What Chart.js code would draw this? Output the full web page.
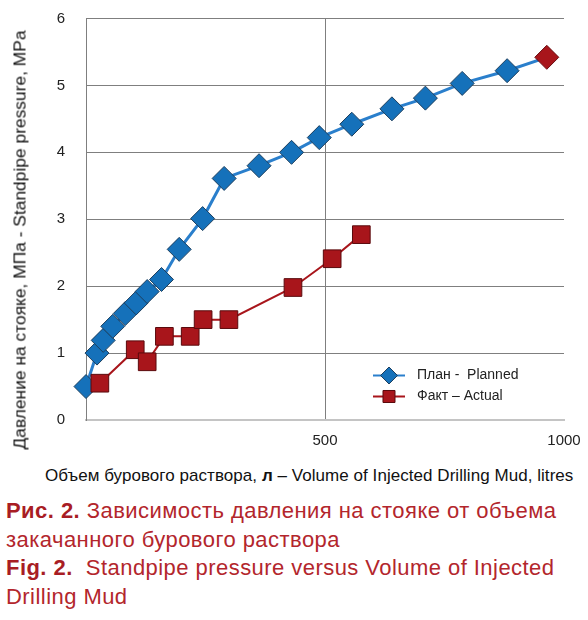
<!DOCTYPE html>
<html>
<head>
<meta charset="utf-8">
<script src="https://cdn.jsdelivr.net/npm/chart.js@4.4.1/dist/chart.umd.min.js"></script>
<style>
  html, body { margin: 0; padding: 0; background: #fff; }
  body { width: 588px; height: 620px; position: relative; overflow: hidden; font-family: "Liberation Sans", Arial, sans-serif; }
  #wrap { position: absolute; left: 0; top: 0; width: 588px; height: 460px; }
  #ytitle { position: absolute; left: 20px; top: 240px; transform: translate(-50%, -50%) rotate(-90deg); white-space: nowrap; font-size: 17.4px; color: #111; }
  #xtitle { position: absolute; left: 45px; top: 466px; white-space: nowrap; font-size: 17px; letter-spacing: 0.05px; color: #111; }
  #caption { position: absolute; left: 6px; top: 497px; font-size: 22px; letter-spacing: 0.45px; line-height: 28.5px; color: #b3262c; }
  #caption b { color: #a81d24; }
</style>
</head>
<body>
<div id="wrap"><canvas id="chart"></canvas></div>
<div id="ytitle">Давление на стояке, МПа - Standpipe pressure, MPa</div>
<div id="xtitle">Объем бурового раствора, <b>л</b> – Volume of Injected Drilling Mud, litres</div>
<div id="caption">
  <b>Рис. 2.</b> Зависимость давления на стояке от объема<br>
  закачанного бурового раствора<br>
  <b>Fig. 2.</b>&nbsp; Standpipe pressure versus Volume of Injected<br>
  Drilling Mud
</div>
<script>
// Объем, л / давление, МПа
const plannedVolume = [0, 23, 36, 56, 82, 105, 128, 158, 195, 244, 289, 362, 430, 488, 556, 640, 710, 787, 881, 964];
const plannedPressure = [0.50, 1.00, 1.19, 1.40, 1.59, 1.75, 1.92, 2.10, 2.55, 3.01, 3.61, 3.80, 4.00, 4.22, 4.42, 4.65, 4.81, 5.03, 5.22, 5.42];

const actualVolume = [29, 103, 128, 164, 218, 245, 299, 433, 515, 576];
const actualPressure = [0.55, 1.05, 0.87, 1.25, 1.25, 1.50, 1.50, 1.98, 2.41, 2.77];

const seriesNames = ["План -  Planned", "Факт – Actual"];
const xTicks = [0, 500, 1000];
const yTicks = [0, 1, 2, 3, 4, 5, 6];

const blue = "#1571ba";
const blueLine = "#2a7fcc";
const red = "#a8151b";

// ultimo punto del piano in rosso
const plannedColors = plannedVolume.map((v, i) => i === plannedVolume.length - 1 ? red : blue);
const plannedBorders = plannedVolume.map((v, i) => i === plannedVolume.length - 1 ? "#6a0c10" : "#1d3f5e");

const legendPlugin = {
  id: "insideLegend",
  afterDatasetsDraw(chart) {
    const ctx = chart.ctx;
    const a = chart.chartArea;
    const x0 = a.left + 287;
    const rows = [
      { y: a.top + 357, color: blueLine, fill: blue, border: "#1d3f5e", style: "rectRot", r: 8.5, lw: 2 },
      { y: a.top + 378, color: red, fill: red, border: "#5a0a0d", style: "rect", r: 8.5, lw: 2 }
    ];
    ctx.save();
    rows.forEach((row, i) => {
      ctx.strokeStyle = row.color;
      ctx.lineWidth = row.lw;
      ctx.beginPath();
      ctx.moveTo(x0, row.y);
      ctx.lineTo(x0 + 32, row.y);
      ctx.stroke();
      ctx.fillStyle = row.fill;
      ctx.strokeStyle = row.border;
      ctx.lineWidth = 1;
      Chart.helpers.drawPoint(ctx, { pointStyle: row.style, radius: row.r, borderWidth: 1 }, x0 + 16, row.y);
      ctx.fillStyle = "#222";
      ctx.font = "14px 'Liberation Sans', Arial, sans-serif";
      ctx.textBaseline = "middle";
      ctx.textAlign = "left";
      ctx.fillText(seriesNames[i], x0 + 44, row.y);
    });
    ctx.restore();
  }
};

const ctx = document.getElementById("chart").getContext("2d");

new Chart(ctx, {
  type: "scatter",
  data: {
    datasets: [
      {
        label: seriesNames[1],
        data: actualVolume.map((v, i) => ({ x: v, y: actualPressure[i] })),
        showLine: true,
        borderColor: red,
        borderWidth: 2,
        backgroundColor: red,
        pointBackgroundColor: red,
        pointBorderColor: "#5a0a0d",
        pointBorderWidth: 1,
        pointStyle: "rect",
        pointRadius: 12.5,
        pointHoverRadius: 12.5,
        clip: false
      },
      {
        label: seriesNames[0],
        data: plannedVolume.map((v, i) => ({ x: v, y: plannedPressure[i] })),
        showLine: true,
        borderColor: blueLine,
        borderWidth: 3,
        backgroundColor: blue,
        pointBackgroundColor: plannedColors,
        pointBorderColor: plannedBorders,
        pointBorderWidth: 1,
        pointStyle: "rectRot",
        pointRadius: 12,
        pointHoverRadius: 12,
        clip: false
      }
    ]
  },
  options: {
    responsive: true,
    maintainAspectRatio: false,
    animation: false,
    layout: { padding: { left: 0, top: 18.5, right: 24, bottom: 0 } },
    plugins: {
      legend: { display: false },
      tooltip: { enabled: false }
    },
    scales: {
      x: {
        type: "linear",
        min: xTicks[0],
        max: xTicks[xTicks.length - 1],
        afterBuildTicks: (s) => { s.ticks = xTicks.map(v => ({ value: v })); },
        afterFit: (s) => { s.height = 40; },
        ticks: {
          padding: 0,
          color: "#222",
          font: { family: "'Liberation Sans', Arial, sans-serif", size: 15 },
          callback: (v) => v === 0 ? "" : v,
          maxRotation: 0
        },
        grid: {
          drawTicks: true,
          tickLength: 12,
          tickColor: "transparent",
          color: (c) => c.tick && c.tick.value === 500 ? "#7f7f7f" : "transparent",
          lineWidth: 1
        },
        border: { color: "#c4c4c4", width: 2 }
      },
      y: {
        min: yTicks[0],
        max: yTicks[yTicks.length - 1],
        afterBuildTicks: (s) => { s.ticks = yTicks.map(v => ({ value: v })); },
        afterFit: (s) => { s.width = 86; },
        ticks: {
          padding: 0,
          color: "#222",
          font: { family: "'Liberation Sans', Arial, sans-serif", size: 15 }
        },
        grid: {
          drawTicks: true,
          tickLength: 21,
          tickColor: "transparent",
          color: "#7f7f7f",
          lineWidth: 1
        },
        border: { color: "#7f7f7f", width: 1 }
      }
    }
  },
  plugins: [legendPlugin]
});
</script>
</body>
</html>
